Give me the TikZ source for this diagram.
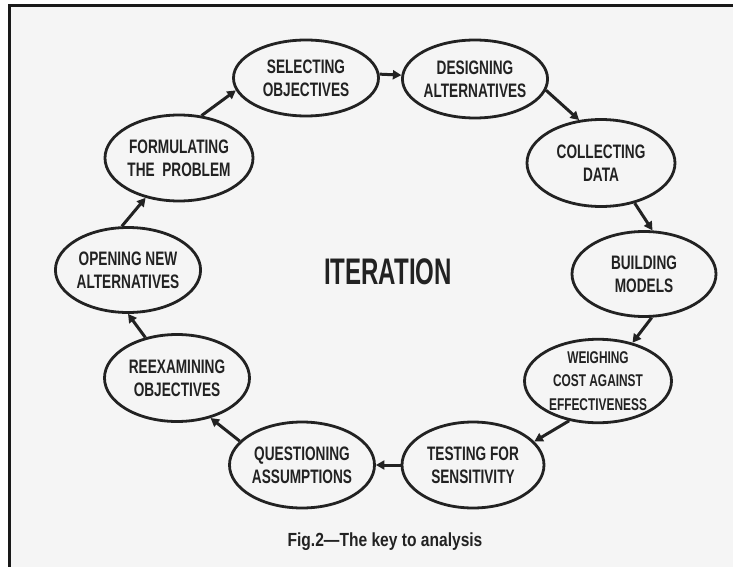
\documentclass[tikz,border=0pt]{standalone}
\usepackage{fontspec}
\setmainfont{Liberation Sans}
\newfontfamily\handfont[FakeStretch=0.7]{Liberation Sans}
\newfontfamily\bigfont[FakeStretch=0.65]{Liberation Sans}
\newfontfamily\capfont[FakeStretch=0.82]{Liberation Sans}
\usetikzlibrary{shapes.geometric,arrows.meta}
\definecolor{ink}{HTML}{222222}
\definecolor{paper}{HTML}{F5F5F5}
\tikzset{
  stage/.style={ellipse, draw=ink, line width=2.8pt, inner sep=0pt, align=center,
    text=ink, font=\handfont\bfseries\fontsize{19.5}{23}\selectfont},
  smallstage/.style={stage, font=\handfont\bfseries\fontsize{17}{23.5}\selectfont},
  arr/.style={draw=ink, line width=3pt, -{Triangle[length=8.5pt,width=9pt]}},
  frameline/.style={draw=black!90, line width=3pt}
}
\begin{document}
\begin{tikzpicture}[x=1pt,y=-1pt]
\useasboundingbox (0,0) rectangle (733,567);
\fill[white] (0,0) rectangle (733,567);
\fill[paper] (9.5,6) rectangle (733,567);
\coordinate (fTL) at (9.5,6);
\coordinate (fTR) at (733,6);
\coordinate (fBL) at (9.5,567);
\draw[frameline] (fBL) -- (fTL) -- (fTR);

\node[stage, minimum width=145pt, minimum height=76pt] (sel) at (306,78) {SELECTING\\OBJECTIVES};
\node[stage, minimum width=145pt, minimum height=78pt] (des) at (475,79) {DESIGNING\\ALTERNATIVES};
\node[stage, minimum width=148pt, minimum height=87pt] (col) at (601,163) {COLLECTING\\DATA};
\node[stage, minimum width=144pt, minimum height=85pt] (bui) at (644,274) {BUILDING\\MODELS};
\node[smallstage, minimum width=147pt, minimum height=83pt] (wei) at (598,381) {WEIGHING\\COST AGAINST\\EFFECTIVENESS};
\node[stage, minimum width=142pt, minimum height=86pt] (tes) at (473,465) {TESTING FOR\\SENSITIVITY};
\node[stage, minimum width=145pt, minimum height=86pt] (que) at (302,465) {QUESTIONING\\ASSUMPTIONS};
\node[stage, minimum width=145pt, minimum height=87pt] (ree) at (177,378) {REEXAMINING\\OBJECTIVES};
\node[stage, minimum width=144pt, minimum height=85pt] (ope) at (128,270) {OPENING NEW\\ALTERNATIVES};
\node[stage, minimum width=148pt, minimum height=86pt] (for) at (179,158) {FORMULATING\\THE\ \ PROBLEM};

\node[text=ink, font=\bigfont\bfseries\fontsize{37}{40}\selectfont] (iter) at (388,272) {ITERATION};
\node[text=ink, font=\capfont\bfseries\fontsize{19}{22}\selectfont] (cap) at (385,542) {Fig.2—The key to analysis};

\draw[arr] (for.62) -- (sel.190);
\draw[arr] (sel.3) -- (des.177);
\draw[arr] (des.-9) -- (col.117);
\draw[arr] (col.-50) -- (bui.79);
\draw[arr] (bui.-80) -- (wei.48);
\draw[arr] (wei.234) -- (tes.21);
\draw[arr] (tes.180) -- (que.0);
\draw[arr] (que.159) -- (ree.-50);
\draw[arr] (ree.128) -- (ope.270);
\draw[arr] (ope.98) -- (for.230);
\end{tikzpicture}
\end{document}
